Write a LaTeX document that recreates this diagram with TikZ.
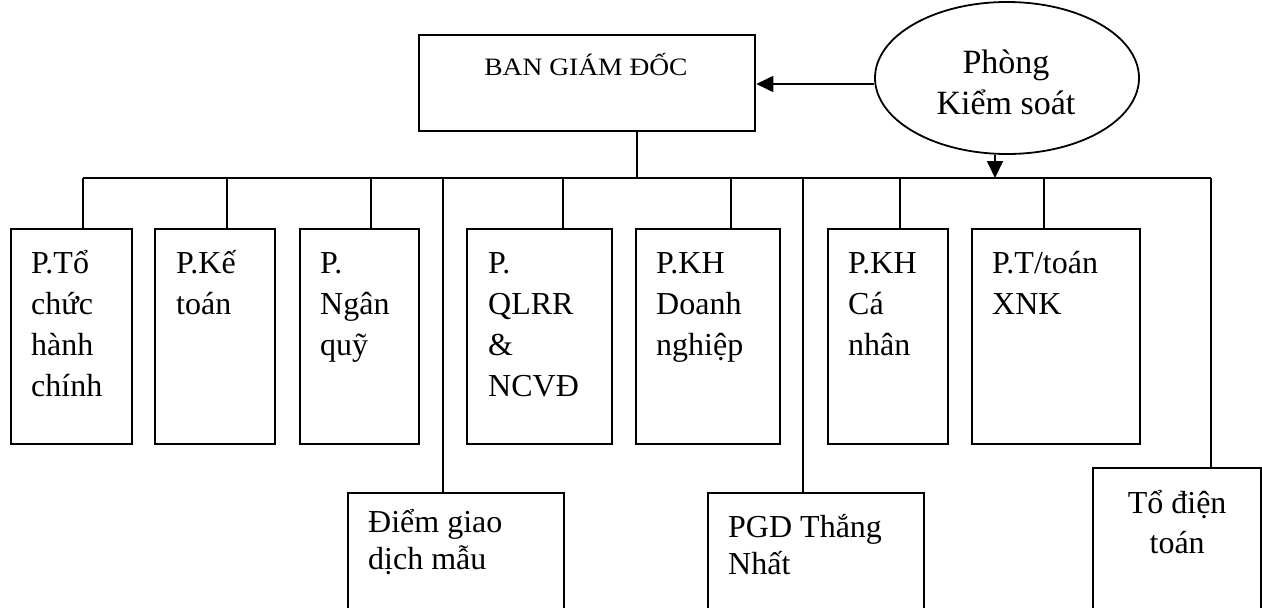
\documentclass[tikz,border=0pt]{standalone}
\usepackage{fontspec}
\setmainfont{Liberation Serif}
\usetikzlibrary{shapes.geometric,arrows.meta}
\begin{document}
\begin{tikzpicture}[x=1pt,y=-1pt,
  box/.style={draw, line width=2.3pt, inner sep=0pt, anchor=north west},
  conn/.style={line width=1.7pt},
  bus/.style={line width=2.6pt},
  lbl/.style={inner sep=0pt, align=left, anchor=base west, font=\fontsize{32}{41}\selectfont},
  lblb/.style={inner sep=0pt, align=left, anchor=base west, font=\fontsize{32}{37}\selectfont},
  arr/.style={line width=1.8pt, -{Triangle[length=17pt,width=16pt]}}]
\useasboundingbox (0,0) rectangle (1262,608);
\clip (0,0) rectangle (1262,608);
\coordinate (busy) at (0,178);

% top
\node[box, minimum width=336pt, minimum height=96pt] (ban) at (418,34) {};
\node[inner sep=0pt, anchor=base, font=\fontsize{25}{28}\selectfont] (bant) at (586,75) {\scalebox{1.1}[1]{BAN GIÁM ĐỐC}};
\node[draw, ellipse, line width=1.8pt, inner sep=0pt, minimum width=264pt, minimum height=152pt] (pk) at (1007,78) {};
\node[inner sep=0pt, align=center, anchor=base, font=\fontsize{34}{41}\selectfont] (pkt) at (1006,114) {Phòng\\Kiểm soát};

% department boxes
\node[box, minimum width=121pt, minimum height=215pt] (b1) at (10,228) {};
\node[box, minimum width=120pt, minimum height=215pt] (b2) at (154,228) {};
\node[box, minimum width=119pt, minimum height=215pt] (b3) at (299,228) {};
\node[box, minimum width=145pt, minimum height=215pt] (b4) at (466,228) {};
\node[box, minimum width=144pt, minimum height=215pt] (b5) at (635,228) {};
\node[box, minimum width=120pt, minimum height=215pt] (b6) at (827,228) {};
\node[box, minimum width=168pt, minimum height=215pt] (b7) at (971,228) {};
\node[box, minimum width=216pt, minimum height=150pt] (u1) at (347,492) {};
\node[box, minimum width=216pt, minimum height=150pt] (u2) at (707,492) {};
\node[box, minimum width=168pt, minimum height=170pt] (u3) at (1092,467) {};

% labels (base anchor = baseline of the last line)
\node[lbl] (t1) at ([xshift=21pt,yshift=-168pt]b1.north west) {P.Tổ\\chức\\hành\\chính};
\node[lbl] (t2) at ([xshift=22pt,yshift=-86pt]b2.north west) {P.Kế\\toán};
\node[lbl] (t3) at ([xshift=21pt,yshift=-127pt]b3.north west) {P.\\Ngân\\quỹ};
\node[lbl] (t4) at ([xshift=22pt,yshift=-168pt]b4.north west) {P.\\QLRR\\\&\\NCVĐ};
\node[lbl] (t5) at ([xshift=21pt,yshift=-127pt]b5.north west) {P.KH\\Doanh\\nghiệp};
\node[lbl] (t6) at ([xshift=21pt,yshift=-127pt]b6.north west) {P.KH\\Cá\\nhân};
\node[lbl] (t7) at ([xshift=21pt,yshift=-86pt]b7.north west) {P.T/toán\\XNK};
\node[lblb] (v1) at ([xshift=21pt,yshift=-77pt]u1.north west) {Điểm giao\\dịch mẫu};
\node[lblb] (v2) at ([xshift=21pt,yshift=-82pt]u2.north west) {PGD Thắng\\Nhất};
\node[inner sep=0pt, align=center, anchor=base, font=\fontsize{32}{40}\selectfont] (v3) at ([yshift=-86pt]u3.north) {Tổ điện\\toán};

% stems
\path ([xshift=73pt]b1.north west) coordinate (s1)
      ([xshift=73pt]b2.north west) coordinate (s2)
      ([xshift=72pt]b3.north west) coordinate (s3)
      ([xshift=97pt]b4.north west) coordinate (s4)
      ([xshift=96pt]b5.north west) coordinate (s5)
      ([xshift=73pt]b6.north west) coordinate (s6)
      ([xshift=73pt]b7.north west) coordinate (s7)
      ([xshift=96pt]u1.north west) coordinate (r1)
      ([xshift=96pt]u2.north west) coordinate (r2)
      ([xshift=119pt]u3.north west) coordinate (r3)
      ([xshift=50pt]ban.south) coordinate (bs);
\foreach \s in {s1,s2,s3,s4,s5,s6,s7,r1,r2,r3,bs}
  \draw[conn] (\s) -- (\s |- busy);
\draw[bus] (s1 |- busy) -- (r3 |- busy);

% arrows from Phong Kiem soat
\path ([yshift=-6pt]pk.west) coordinate (pa)
      ([xshift=-12pt]pk.south) coordinate (pb);
\draw[arr] (pa) -- (pa -| ban.east);
\draw[arr] (pb) -- (pb |- busy);
\end{tikzpicture}
\end{document}
